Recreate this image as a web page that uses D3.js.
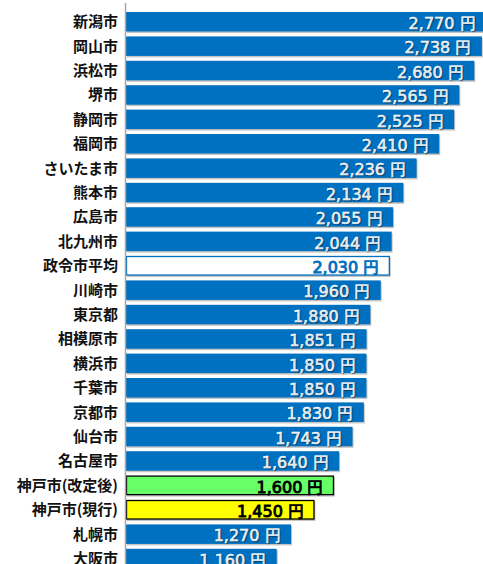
<!DOCTYPE html>
<html><head><meta charset="utf-8">
<script src="https://cdn.jsdelivr.net/npm/d3@7"></script>
<style>
html,body{margin:0;padding:0;background:#fff;}
svg{display:block;}
</style></head>
<body>
<svg id="chart" width="483" height="564"></svg>
<script>
// 政令市ごとの料金(円)
const cities = ["新潟市","岡山市","浜松市","堺市","静岡市","福岡市","さいたま市","熊本市","広島市","北九州市","政令市平均","川崎市","東京都","相模原市","横浜市","千葉市","京都市","仙台市","名古屋市","神戸市(改定後)","神戸市(現行)","札幌市","大阪市"];
const fees = [2770,2738,2680,2565,2525,2410,2236,2134,2055,2044,2030,1960,1880,1851,1850,1850,1830,1743,1640,1600,1450,1270,1160];
const kinds = ["city","city","city","city","city","city","city","city","city","city","avg","city","city","city","city","city","city","city","city","kobeNew","kobeNow","city","city"];

const fills = {city:"#0070c0", avg:"#ffffff", kobeNew:"#66ff66", kobeNow:"#ffff00"};
const strokes = {city:"none", avg:"#0070c0", kobeNew:"#000000", kobeNow:"#000000"};
const textColors = {city:"#ffffff", avg:"#0070c0", kobeNew:"#000000", kobeNow:"#000000"};

const svg = d3.select("#chart");
const x0 = 126;
const step = 24.4;
const x = d3.scaleLinear().domain([0, 2770]).range([x0, 486]);
const y = d3.scaleBand().domain(cities)
  .range([12, 12 + step * 23 - 0.2 * step])
  .paddingInner(0.2).paddingOuter(0);

const rows = cities.map((c, i) => ({city: c, fee: fees[i], kind: kinds[i]}));

const g = svg.append("g");

// shadow under each bar
g.selectAll("rect.shadow").data(rows).enter().append("rect")
  .attr("class", "shadow")
  .attr("x", x0 + 1)
  .attr("y", d => y(d.city) + 1.5)
  .attr("width", d => x(d.fee) - x0)
  .attr("height", y.bandwidth())
  .attr("fill", "#c4c4c4");

g.selectAll("rect.bar").data(rows).enter().append("rect")
  .attr("class", "bar")
  .attr("x", d => d.kind === "city" ? x0 : x0 + 0.5)
  .attr("y", d => d.kind === "city" ? y(d.city) : y(d.city) + 0.5)
  .attr("width", d => x(d.fee) - x0 - (d.kind === "city" ? 0 : 1))
  .attr("height", d => y.bandwidth() - (d.kind === "city" ? 0 : 1))
  .attr("fill", d => fills[d.kind])
  .attr("stroke", d => strokes[d.kind])
  .attr("stroke-width", d => d.kind === "city" ? 0 : 1.3);

// vertical category axis line
svg.append("line")
  .attr("x1", 125.5).attr("x2", 125.5)
  .attr("y1", 3).attr("y2", 564)
  .attr("stroke", "#a6a6a6").attr("stroke-width", 1.5);

// category labels
g.selectAll("text.cat").data(rows).enter().append("text")
  .attr("class", "cat")
  .attr("x", 118)
  .attr("y", d => y(d.city) + y.bandwidth() / 2)
  .attr("dy", "0.36em")
  .attr("text-anchor", "end")
  .attr("font-family", "'Noto Sans CJK JP', sans-serif")
  .attr("font-weight", "bold")
  .attr("font-size", 15)
  .attr("fill", "#111")
  .text(d => d.city);

// value labels
const fmt = d3.format(",");
g.selectAll("text.val").data(rows).enter().append("text")
  .attr("class", "val")
  .attr("x", d => x(d.fee) - 10.5)
  .attr("y", d => y(d.city) + y.bandwidth() / 2 + 1.5)
  .attr("dy", "0.36em")
  .attr("text-anchor", "end")
  .attr("font-family", "'DejaVu Sans', Verdana, sans-serif")
  .attr("font-size", 16)
  .attr("fill", d => textColors[d.kind])
  .attr("stroke", d => textColors[d.kind])
  .attr("stroke-width", d => d.kind === "city" ? 0.5 : 0.9)
  .attr("style", d => d.kind === "city" ? "text-shadow:1px 1px 1px rgba(0,0,0,0.35)" : null)
  .text(d => fmt(d.fee) + " 円");
</script>
</body></html>
